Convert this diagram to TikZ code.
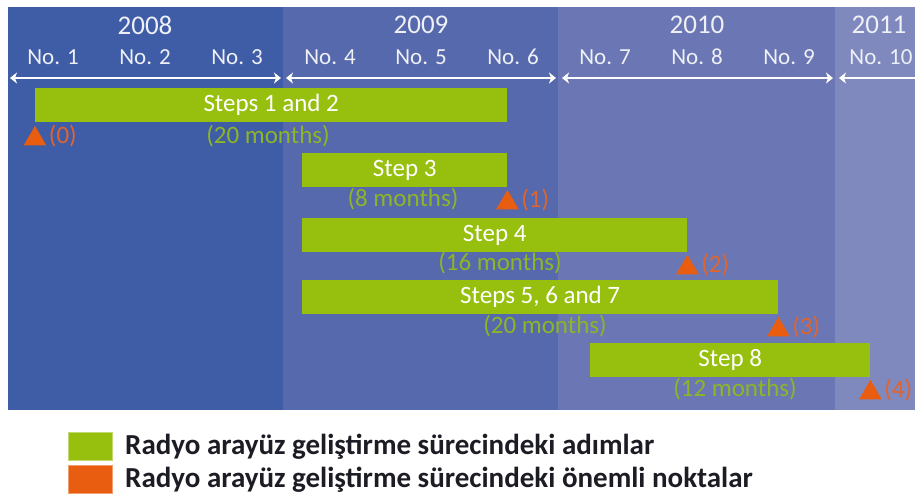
\documentclass[tikz,border=0pt]{standalone}
\usepackage{fontspec}
\setmainfont{Carlito}
\usetikzlibrary{shapes.geometric,arrows.meta}
\definecolor{yrA}{HTML}{3F5CA7}
\definecolor{yrB}{HTML}{5569AC}
\definecolor{yrC}{HTML}{6B77B4}
\definecolor{yrD}{HTML}{7F89BE}
\definecolor{barg}{HTML}{97BF0D}
\definecolor{msorange}{HTML}{E85D10}
\definecolor{durtxt}{HTML}{8DB526}
\definecolor{mstxt}{HTML}{E0642E}
\definecolor{headtxt}{HTML}{EEF0F6}
\definecolor{legtxt}{HTML}{1C1C24}
\tikzset{
  yearlbl/.style={text=headtxt,font=\fontsize{27}{30}\selectfont,inner sep=0pt},
  qlbl/.style={text=headtxt,font=\fontsize{23}{26}\selectfont,inner sep=0pt},
  span/.style={draw=white,line width=2.6pt,{Stealth[length=7pt,width=11pt,inset=2pt]}-{Stealth[length=7pt,width=11pt,inset=2pt]}},
  stepbar/.style={fill=barg,draw=none,text=white,font=\fontsize{25}{28}\selectfont,
    minimum height=34pt,inner sep=0pt,anchor=north west},
  dur/.style={text=durtxt,font=\fontsize{25}{28}\selectfont,inner sep=0pt},
  msmark/.style={regular polygon,regular polygon sides=3,fill=msorange,draw=none,
    minimum size=26pt,inner sep=0pt,anchor=corner 1},
  mslbl/.style={text=mstxt,font=\fontsize{25}{28}\selectfont,inner sep=0pt,anchor=west},
  legbox/.style={draw=#1!60!white,line width=1pt,fill=#1,minimum width=44pt,minimum height=28pt,inner sep=0pt},
  leglbl/.style={text=legtxt,font=\bfseries\fontsize{29}{33}\selectfont,inner sep=0pt,anchor=west}
}
\begin{document}
\begin{tikzpicture}[x=1pt,y=-1pt]
\useasboundingbox (0,0) rectangle (915,499);
\fill[white] (0,0) rectangle (915,499);

% year columns
\fill[yrA] (8,7) rectangle (283,410);
\fill[yrB] (283,7) rectangle (558,410);
\fill[yrC] (558,7) rectangle (835,410);
\fill[yrD] (835,7) rectangle (915,410);

% year headings
\node[yearlbl] (y08) at (145,25) {2008};
\node[yearlbl] (y09) at (421,25) {2009};
\node[yearlbl] (y10) at (697,25) {2010};
\node[yearlbl] (y11) at (879,25) {2011};

% quarter numbers
\node[qlbl] (q1) at (53,57) {No. 1};
\node[qlbl] (q2) at (145,57) {No. 2};
\node[qlbl] (q3) at (237,57) {No. 3};
\node[qlbl] (q4) at (330,57) {No. 4};
\node[qlbl] (q5) at (421,57) {No. 5};
\node[qlbl] (q6) at (513,57) {No. 6};
\node[qlbl] (q7) at (605,57) {No. 7};
\node[qlbl] (q8) at (697,57) {No. 8};
\node[qlbl] (q9) at (789,57) {No. 9};
\node[qlbl] (q10) at (881,57) {No. 10};

% year spans
\coordinate (a08) at (10,78);  \coordinate (b08) at (281,78);
\coordinate (a09) at (286,78); \coordinate (b09) at (556,78);
\coordinate (a10) at (562,78); \coordinate (b10) at (833,78);
\coordinate (a11) at (839,78); \coordinate (b11) at (925,78);
\draw[span] (a08) -- (b08);
\draw[span] (a09) -- (b09);
\draw[span] (a10) -- (b10);
\draw[span,{Stealth[length=7pt,width=11pt,inset=2pt]}-] (a11) -- (b11);

% development steps
\node[stepbar,minimum width=472pt] (s12) at (35,88) {Steps 1 and 2};
\node[dur] (d12) at (268,136) {(20 months)};
\node[stepbar,minimum width=205pt] (s3) at (302,153) {Step 3};
\node[dur] (d3) at (403,199) {(8 months)};
\node[stepbar,minimum width=385pt] (s4) at (302,218) {Step 4};
\node[dur] (d4) at (500,263) {(16 months)};
\node[stepbar,minimum width=476pt] (s567) at (302,280) {Steps 5, 6 and 7};
\node[dur] (d567) at (545,326) {(20 months)};
\node[stepbar,minimum width=280pt] (s8) at (590,343) {Step 8};
\node[dur] (d8) at (735,389) {(12 months)};

% milestones, hanging just below the end of each bar
\node[msmark] (m0) at ([yshift=-3pt]s12.south west) {};
\node[mslbl] (l0) at ([xshift=6pt,yshift=3pt]m0.east) {(0)};
\node[msmark] (m1) at ([yshift=-2pt]s3.south east) {};
\node[mslbl] (l1) at ([xshift=6pt,yshift=3pt]m1.east) {(1)};
\node[msmark] (m2) at ([yshift=-2pt]s4.south east) {};
\node[mslbl] (l2) at ([xshift=6pt,yshift=3pt]m2.east) {(2)};
\node[msmark] (m3) at ([yshift=-2pt]s567.south east) {};
\node[mslbl] (l3) at ([xshift=6pt,yshift=3pt]m3.east) {(3)};
\node[msmark] (m4) at ([yshift=-2pt]s8.south east) {};
\node[mslbl] (l4) at ([xshift=6pt,yshift=3pt]m4.east) {(4)};

% legend
\node[legbox=barg] (kg) at (90.5,446.5) {};
\node[leglbl] (tg) at (125,447) {Radyo arayüz geliştirme sürecindeki adımlar};
\node[legbox=msorange] (ko) at (90.5,479.5) {};
\node[leglbl] (to) at (125,480) {Radyo arayüz geliştirme sürecindeki önemli noktalar};
\end{tikzpicture}
\end{document}
